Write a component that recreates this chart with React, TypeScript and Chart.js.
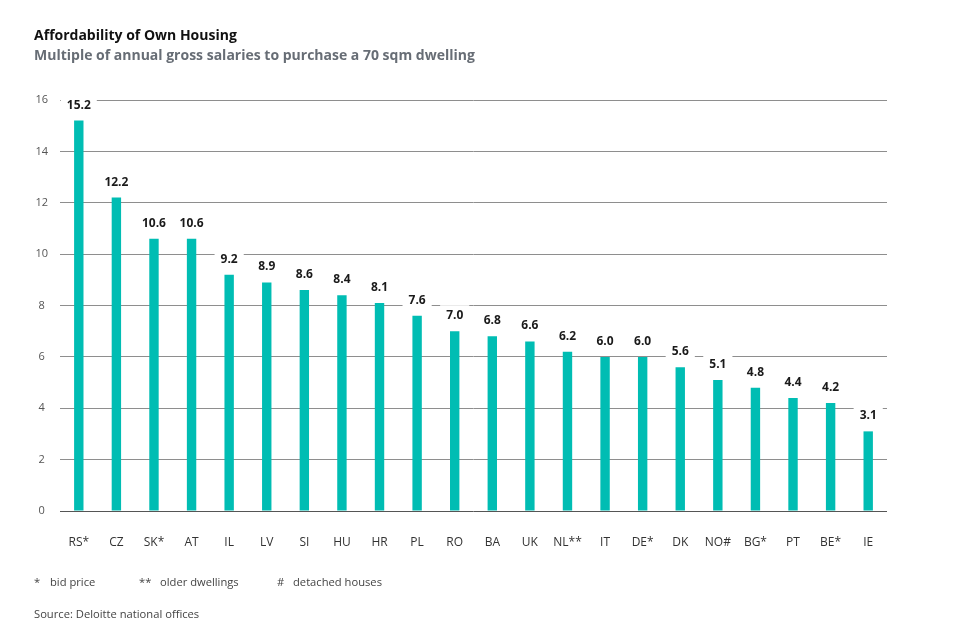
import React, { useEffect, useRef } from "react";
import { Chart, registerables } from "chart.js";
Chart.register(...registerables);

const categories = ["RS*", "CZ", "SK*", "AT", "IL", "LV", "SI", "HU", "HR", "PL", "RO", "BA", "UK", "NL**", "IT", "DE*", "DK", "NO#", "BG*", "PT", "BE*", "IE"];
const values = [15.2, 12.2, 10.6, 10.6, 9.2, 8.9, 8.6, 8.4, 8.1, 7.6, 7.0, 6.8, 6.6, 6.2, 6.0, 6.0, 5.6, 5.1, 4.8, 4.4, 4.2, 3.1];
const yMin = 0;
const yMax = 16;
const yStep = 2;
const titleText = "Affordability of Own Housing";
const subtitleText = "Multiple of annual gross salaries to purchase a 70 sqm dwelling";
const footMarks = ["*", "**", "#"];
const footTexts = ["bid price", "older dwellings", "detached houses"];
const sourceText = "Source: Deloitte national offices";

const FONT = '"Open Sans", "DejaVu Sans", sans-serif';

const valueLabelPlugin = {
  id: "valueLabels",
  afterDatasetsDraw(chart: any) {
    const ctx = chart.ctx;
    const meta = chart.getDatasetMeta(0);
    ctx.save();
    ctx.font = `bold 12px ${FONT}`;
    meta.data.forEach((bar: any, i: number) => {
      const text = values[i].toFixed(1);
      const w = ctx.measureText(text).width;
      const x = bar.x;
      const base = bar.y - 12;
      ctx.fillStyle = "#ffffff";
      ctx.fillRect(x - w / 2 - 6, base - 14, w + 12, 19);
      ctx.fillStyle = "#1a1a1a";
      ctx.textAlign = "center";
      ctx.textBaseline = "alphabetic";
      ctx.fillText(text, x, base);
    });
    ctx.restore();
  },
};

const footX = [[34, 50], [139, 160], [277, 293]];

export default function App() {
  const canvasRef = useRef<HTMLCanvasElement | null>(null);

  useEffect(() => {
    if (!canvasRef.current) return;
    const chart = new Chart(canvasRef.current, {
      type: "bar",
      data: {
        labels: categories,
        datasets: [
          {
            data: values,
            backgroundColor: "#00BDB3",
            barPercentage: 0.25,
            categoryPercentage: 1,
          },
        ],
      },
      options: {
        animation: false,
        responsive: false,
        devicePixelRatio: 1,
        layout: { padding: { left: 0, top: 100, right: 68, bottom: 68 } },
        plugins: {
          legend: { display: false },
          tooltip: { enabled: false },
          title: { display: false },
        },
        scales: {
          x: {
            grid: { display: false },
            border: { display: false },
            ticks: {
              color: "#333333",
              font: { family: FONT, size: 12 },
              padding: 16,
              maxRotation: 0,
              autoSkip: false,
            },
            afterFit: (scale: any) => {
              scale.height = 60;
            },
          },
          y: {
            min: yMin,
            max: yMax,
            border: { display: false },
            grid: {
              drawTicks: false,
              color: (c: any) => (c.tick && c.tick.value === 0 ? "#555555" : "#8e8e8e"),
              lineWidth: 1,
            },
            ticks: {
              stepSize: yStep,
              color: "#555555",
              font: { family: FONT, size: 11 },
              padding: 12,
              crossAlign: "center",
            },
            afterFit: (scale: any) => {
              scale.width = 60;
            },
          },
        },
      },
      plugins: [valueLabelPlugin],
    } as any);
    return () => chart.destroy();
  }, []);

  const base: React.CSSProperties = {
    position: "absolute",
    fontFamily: FONT,
    whiteSpace: "nowrap",
    margin: 0,
  };

  return (
    <div style={{ position: "fixed", left: 0, top: 0, width: 955, height: 639, background: "#fff", overflow: "hidden" }}>
      <canvas ref={canvasRef} width={955} height={639} style={{ position: "absolute", left: 0, top: 0, width: 955, height: 639 }} />
      <div style={{ ...base, left: 34, top: 28, fontSize: 14, lineHeight: "14px", fontWeight: 700, color: "#111111" }}>{titleText}</div>
      <div style={{ ...base, left: 34, top: 48, fontSize: 14, lineHeight: "14px", fontWeight: 700, color: "#676d75" }}>{subtitleText}</div>
      {footMarks.map((m, i) => (
        <React.Fragment key={i}>
          <div style={{ ...base, left: footX[i][0], top: 576, fontSize: 11.2, lineHeight: "12px", color: "#444444" }}>{m}</div>
          <div style={{ ...base, left: footX[i][1], top: 576, fontSize: 11.2, lineHeight: "12px", color: "#444444" }}>{footTexts[i]}</div>
        </React.Fragment>
      ))}
      <div style={{ ...base, left: 34, top: 608, fontSize: 11.2, lineHeight: "12px", color: "#444444" }}>{sourceText}</div>
    </div>
  );
}
